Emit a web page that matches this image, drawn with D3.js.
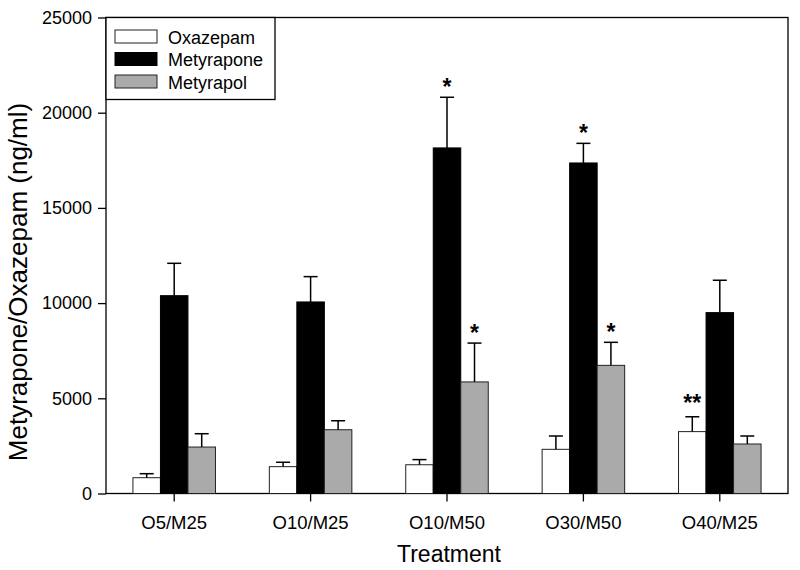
<!DOCTYPE html>
<html>
<head>
<meta charset="utf-8">
<script src="https://cdn.jsdelivr.net/npm/d3@7"></script>
<style>
  html, body { margin: 0; padding: 0; background: #fff; }
  text { font-family: "Liberation Sans", Arial, Helvetica, sans-serif; fill: #000; }
</style>
</head>
<body>
<svg id="chart" width="800" height="570"></svg>
<script>
// ---- data ----
const categories = ["O5/M25", "O10/M25", "O10/M50", "O30/M50", "O40/M25"];
const seriesNames = ["Oxazepam", "Metyrapone", "Metyrapol"];
const oxazepam      = [830, 1410, 1510, 2320, 3250];
const oxazepamErr   = [210, 230, 270, 700, 780];
const metyrapone    = [10390, 10060, 18150, 17360, 9500];
const metyraponeErr = [1700, 1330, 2660, 1030, 1700];
const metyrapol     = [2440, 3350, 5860, 6730, 2600];
const metyrapolErr  = [700, 470, 2040, 1210, 420];
const yTicks = [0, 5000, 10000, 15000, 20000, 25000];
// significance marks: [category index, series index, label]
const marks = [[2, 1, "*"], [2, 2, "*"], [3, 1, "*"], [3, 2, "*"], [4, 0, "**"]];

const values = [oxazepam, metyrapone, metyrapol];
const errors = [oxazepamErr, metyraponeErr, metyrapolErr];
const fills = ["#ffffff", "#000000", "#aaaaaa"];
const strokes = ["#222", "#000", "#222"];

// ---- layout ----
const svg = d3.select("#chart");
const L = 106, R = 788, T = 17.5, B = 493.5;

const x = d3.scaleBand().domain(categories).range([L, R]).paddingInner(0.395).paddingOuter(0.1975);
const xs = d3.scaleBand().domain(d3.range(seriesNames.length)).range([0, x.bandwidth()]);
const y = d3.scaleLinear().domain([0, 25000]).range([B, T]);

// frame
svg.append("rect").attr("x", L).attr("y", T).attr("width", R - L).attr("height", B - T)
  .attr("fill", "none").attr("stroke", "#000").attr("stroke-width", 1.3);

// bars
const rows = [];
categories.forEach((c, i) => seriesNames.forEach((s, j) => rows.push({c, i, j, v: values[j][i], e: errors[j][i]})));

const g = svg.append("g");
g.selectAll("rect.bar").data(rows).join("rect").attr("class", "bar")
  .attr("x", d => x(d.c) + xs(d.j))
  .attr("y", d => y(d.v))
  .attr("width", xs.bandwidth())
  .attr("height", d => y(0) - y(d.v))
  .attr("fill", d => fills[d.j])
  .attr("stroke", d => strokes[d.j]).attr("stroke-width", 1);

// error bars (upper only)
const capW = 14;
g.selectAll("line.err").data(rows).join("line").attr("class", "err")
  .attr("x1", d => x(d.c) + xs(d.j) + xs.bandwidth() / 2)
  .attr("x2", d => x(d.c) + xs(d.j) + xs.bandwidth() / 2)
  .attr("y1", d => y(d.v)).attr("y2", d => y(d.v + d.e))
  .attr("stroke", "#000").attr("stroke-width", 1.5);
g.selectAll("line.cap").data(rows).join("line").attr("class", "cap")
  .attr("x1", d => x(d.c) + xs(d.j) + xs.bandwidth() / 2 - capW / 2)
  .attr("x2", d => x(d.c) + xs(d.j) + xs.bandwidth() / 2 + capW / 2)
  .attr("y1", d => y(d.v + d.e)).attr("y2", d => y(d.v + d.e))
  .attr("stroke", "#000").attr("stroke-width", 1.5);

// significance marks
g.selectAll("text.mark").data(marks).join("text").attr("class", "mark")
  .attr("x", d => x(categories[d[0]]) + xs(d[1]) + xs.bandwidth() / 2)
  .attr("y", d => y(values[d[1]][d[0]] + errors[d[1]][d[0]]) - (d[2].length > 1 ? 6 : 2))
  .attr("text-anchor", "middle")
  .style("font-size", "23px")
  .style("font-weight", "bold")
  .text(d => d[2]);

// axes
const yAxis = d3.axisLeft(y).tickValues(yTicks).tickSize(8).tickPadding(6).tickFormat(d3.format("d"));
const ya = svg.append("g").attr("transform", `translate(${L},0)`).call(yAxis);
ya.select(".domain").remove();
ya.selectAll("line").attr("stroke", "#000").attr("stroke-width", 1.3);
ya.selectAll("text").style("font-size", "18px").attr("font-family", null);

const xAxis = d3.axisBottom(x).tickSize(8).tickPadding(14);
const xa = svg.append("g").attr("transform", `translate(0,${B})`).call(xAxis);
xa.select(".domain").remove();
xa.selectAll("line").attr("stroke", "#000").attr("stroke-width", 1.3);
xa.selectAll("text").style("font-size", "18.5px").attr("font-family", null);

// axis titles
svg.append("text").attr("x", (L + R) / 2 + 2).attr("y", 562).attr("text-anchor", "middle")
  .style("font-size", "23px").text("Treatment");
svg.append("text").attr("transform", `translate(27,282) rotate(-90)`)
  .attr("text-anchor", "middle").style("font-size", "26px")
  .text("Metyrapone/Oxazepam (ng/ml)");

// legend
const lg = svg.append("g");
lg.append("rect").attr("x", L).attr("y", T).attr("width", 169).attr("height", 82)
  .attr("fill", "#fff").attr("stroke", "#000").attr("stroke-width", 1.3);
seriesNames.forEach((s, j) => {
  lg.append("rect").attr("x", 115).attr("y", 30 + j * 22.5).attr("width", 42).attr("height", 13)
    .attr("fill", fills[j]).attr("stroke", strokes[j]).attr("stroke-width", 1);
  lg.append("text").attr("x", 168).attr("y", 43.5 + j * 22.5).style("font-size", "18px").text(s);
});
</script>
</body>
</html>
